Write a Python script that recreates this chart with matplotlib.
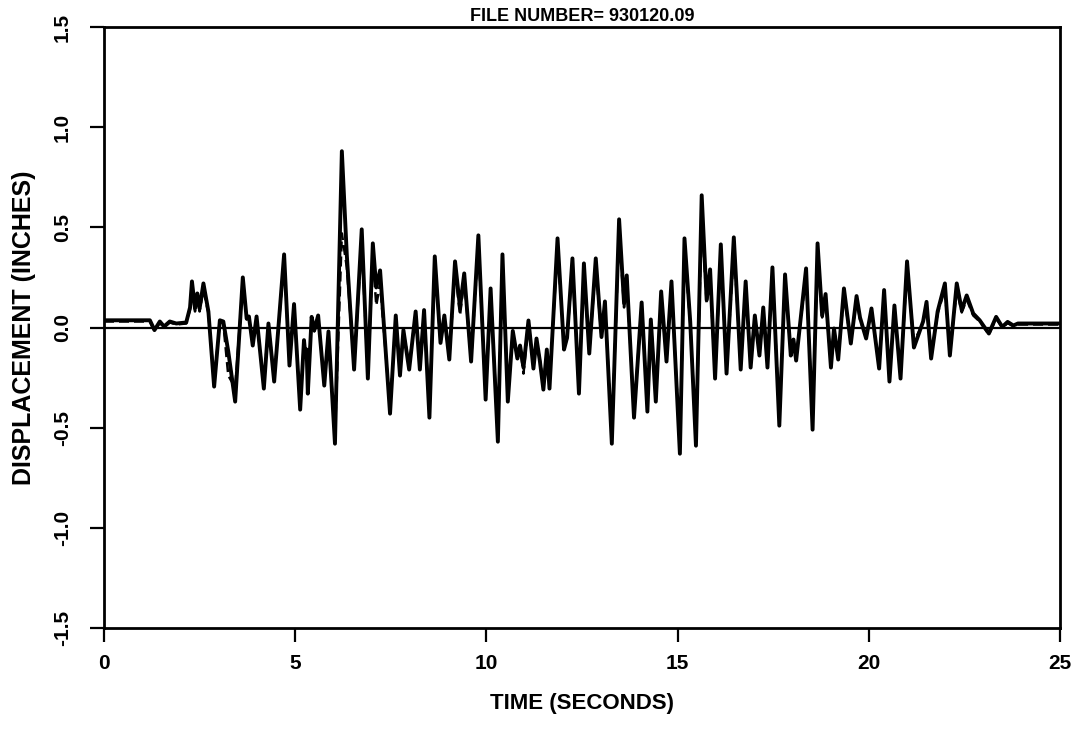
import matplotlib
matplotlib.use("Agg")
import matplotlib.pyplot as plt

plt.rcParams["font.family"] = ["Liberation Sans", "DejaVu Sans"]
plt.rcParams["font.weight"] = "bold"
plt.rcParams["axes.unicode_minus"] = False

# Displacement record, time in seconds, displacement in inches
time_s = [
    0.00, 1.20, 1.32, 1.46, 1.57, 1.72, 1.89, 2.15, 2.25, 2.30,
    2.38, 2.44, 2.50, 2.60, 2.73, 2.88, 3.03, 3.12, 3.25, 3.43,
    3.63, 3.73, 3.79, 3.89, 3.99, 4.18, 4.30, 4.45, 4.71, 4.85,
    4.97, 5.13, 5.23, 5.27, 5.30, 5.33, 5.43, 5.50, 5.60, 5.76,
    5.87, 6.04, 6.22, 6.35, 6.54, 6.74, 6.90, 7.03, 7.12, 7.22,
    7.48, 7.63, 7.74, 7.83, 7.98, 8.15, 8.26, 8.37, 8.51, 8.65,
    8.80, 8.90, 9.03, 9.18, 9.31, 9.42, 9.60, 9.79, 9.98, 10.11,
    10.30, 10.42, 10.56, 10.69, 10.81, 10.88, 10.97, 11.10, 11.23, 11.31,
    11.40, 11.49, 11.58, 11.65, 11.86, 12.03, 12.11, 12.25, 12.42, 12.55,
    12.69, 12.86, 13.01, 13.10, 13.28, 13.47, 13.60, 13.67, 13.86, 14.06,
    14.21, 14.30, 14.43, 14.57, 14.71, 14.84, 15.06, 15.18, 15.33, 15.48,
    15.63, 15.76, 15.85, 15.98, 16.13, 16.28, 16.47, 16.54, 16.65, 16.78,
    16.91, 17.02, 17.14, 17.24, 17.35, 17.48, 17.66, 17.81, 17.96, 18.03,
    18.10, 18.36, 18.53, 18.66, 18.78, 18.87, 19.01, 19.09, 19.20, 19.35,
    19.53, 19.68, 19.77, 19.93, 20.07, 20.27, 20.40, 20.54, 20.67, 20.83,
    21.00, 21.18, 21.42, 21.51, 21.63, 21.80, 21.99, 22.12, 22.30, 22.43,
    22.56, 22.73, 22.90, 23.14, 23.33, 23.49, 23.63, 23.78, 23.90, 25.00,
]

disp_a = [
    0.036, 0.036, -0.013, 0.030, 0.005, 0.030, 0.020, 0.025, 0.100, 0.230,
    0.095, 0.170, 0.095, 0.220, 0.080, -0.295, 0.036, 0.030, -0.120, -0.370,
    0.250, 0.045, 0.055, -0.090, 0.055, -0.305, 0.020, -0.270, 0.365, -0.190,
    0.117, -0.410, -0.063, -0.147, -0.110, -0.330, 0.053, -0.013, 0.060, -0.290,
    -0.020, -0.580, 0.880, 0.360, -0.210, 0.490, -0.255, 0.420, 0.200, 0.285,
    -0.430, 0.060, -0.240, -0.013, -0.210, 0.080, -0.210, 0.087, -0.450, 0.355,
    -0.077, 0.060, -0.160, 0.330, 0.100, 0.270, -0.170, 0.460, -0.360, 0.195,
    -0.570, 0.365, -0.370, -0.017, -0.155, -0.090, -0.200, 0.035, -0.205, -0.055,
    -0.170, -0.310, -0.110, -0.305, 0.445, -0.110, -0.050, 0.345, -0.330, 0.320,
    -0.130, 0.345, -0.047, 0.130, -0.580, 0.540, 0.120, 0.260, -0.450, 0.125,
    -0.420, 0.040, -0.370, 0.180, -0.170, 0.230, -0.630, 0.445, 0.030, -0.590,
    0.660, 0.137, 0.290, -0.255, 0.415, -0.230, 0.450, 0.200, -0.210, 0.230,
    -0.200, 0.060, -0.140, 0.100, -0.200, 0.300, -0.490, 0.265, -0.140, -0.060,
    -0.165, 0.295, -0.510, 0.420, 0.060, 0.167, -0.200, -0.005, -0.160, 0.195,
    -0.080, 0.157, 0.050, -0.055, 0.095, -0.205, 0.187, -0.270, 0.110, -0.255,
    0.330, -0.100, 0.030, 0.128, -0.155, 0.080, 0.220, -0.140, 0.220, 0.087,
    0.160, 0.070, 0.036, -0.030, 0.053, 0.003, 0.028, 0.010, 0.020, 0.020,
]

disp_b = [
    0.030, 0.030, -0.018, 0.024, 0.000, 0.025, 0.015, 0.020, 0.090, 0.200,
    0.080, 0.150, 0.080, 0.190, 0.070, -0.270, 0.030, 0.020, -0.240, -0.300,
    0.220, 0.040, 0.045, -0.080, 0.045, -0.280, 0.015, -0.250, 0.330, -0.170,
    0.100, -0.380, -0.070, -0.140, -0.120, -0.300, 0.045, -0.020, 0.050, -0.270,
    -0.030, -0.540, 0.470, 0.300, -0.190, 0.420, -0.230, 0.350, 0.110, 0.220,
    -0.400, 0.050, -0.220, -0.020, -0.190, 0.070, -0.190, 0.075, -0.420, 0.320,
    -0.070, 0.050, -0.150, 0.290, 0.060, 0.240, -0.160, 0.410, -0.330, 0.170,
    -0.530, 0.330, -0.340, -0.025, -0.150, -0.095, -0.230, 0.025, -0.190, -0.065,
    -0.165, -0.280, -0.130, -0.280, 0.400, -0.100, -0.055, 0.310, -0.300, 0.290,
    -0.120, 0.310, -0.050, 0.115, -0.540, 0.480, 0.100, 0.230, -0.420, 0.110,
    -0.390, 0.030, -0.340, 0.160, -0.160, 0.200, -0.590, 0.400, 0.020, -0.550,
    0.550, 0.120, 0.250, -0.240, 0.370, -0.210, 0.380, 0.180, -0.190, 0.200,
    -0.180, 0.050, -0.130, 0.085, -0.180, 0.270, -0.450, 0.240, -0.130, -0.080,
    -0.150, 0.260, -0.470, 0.380, 0.050, 0.140, -0.180, -0.015, -0.150, 0.170,
    -0.075, 0.140, 0.040, -0.050, 0.080, -0.190, 0.165, -0.250, 0.095, -0.235,
    0.290, -0.070, 0.020, 0.110, -0.140, 0.070, 0.190, -0.130, 0.190, 0.075,
    0.140, 0.060, 0.030, -0.035, 0.045, 0.000, 0.022, 0.006, 0.015, 0.015,
]

x_ticks = [0, 5, 10, 15, 20, 25]
y_ticks = [-1.5, -1.0, -0.5, 0.0, 0.5, 1.0, 1.5]
y_tick_labels = ["-1.5", "-1.0", "-0.5", "0.0", "0.5", "1.0", "1.5"]

fig = plt.figure(figsize=(10.76, 7.30), dpi=100)
ax = fig.add_axes([104 / 1076, 1 - 628 / 730, (1060 - 104) / 1076, (628 - 27) / 730])

ax.axhline(0.0, color="black", lw=1.6, zorder=1)
ax.plot(time_s, disp_a, color="black", lw=2.8, solid_joinstyle="round",
        solid_capstyle="round", zorder=3)
ax.plot(time_s, disp_b, color="black", lw=1.8, ls=(0, (4, 2)), zorder=2)

ax.set_xlim(0, 25)
ax.set_ylim(-1.5, 1.5)
ax.set_xticks(x_ticks)
ax.set_xticklabels([str(v) for v in x_ticks], fontsize=15, fontweight="bold")
ax.set_yticks(y_ticks)
ax.set_yticklabels(y_tick_labels, fontsize=15, fontweight="bold",
                   rotation=90, va="center")

ax.tick_params(axis="both", direction="out", length=10, width=1.6, colors="black")
ax.tick_params(axis="x", pad=9)
ax.tick_params(axis="y", pad=13)
for sp in ax.spines.values():
    sp.set_linewidth(2.0)
    sp.set_color("black")

ax.set_title("FILE NUMBER= 930120.09", fontsize=13, fontweight="bold", pad=4)
ax.set_xlabel("TIME (SECONDS)", fontsize=16, fontweight="bold", labelpad=14)
ax.set_ylabel("DISPLACEMENT (INCHES)", fontsize=18, fontweight="bold", labelpad=12)

fig.savefig("out.png", dpi=100, facecolor="white")
